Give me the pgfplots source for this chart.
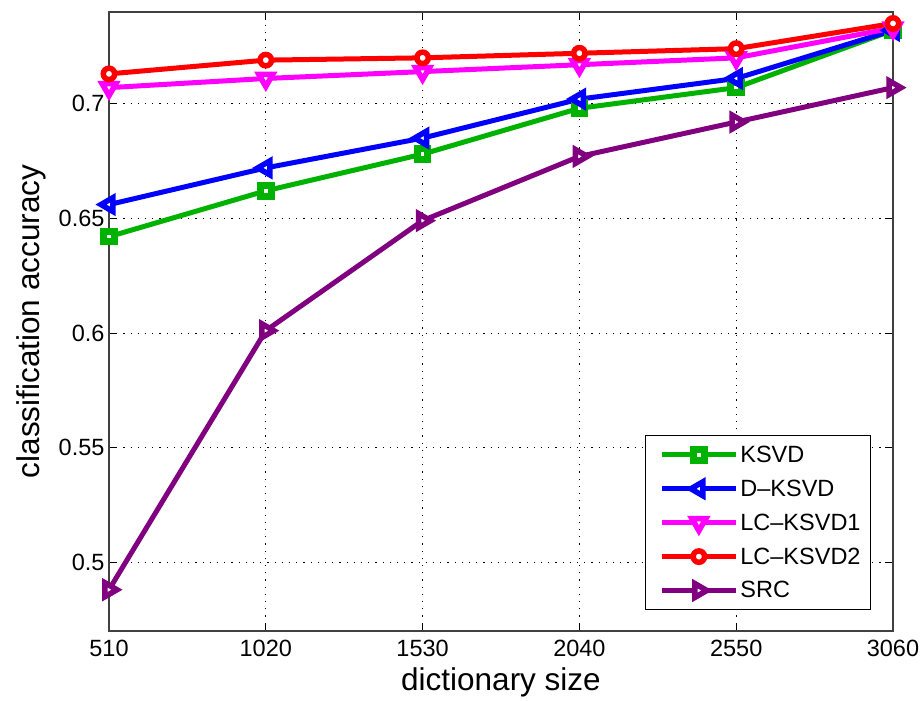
\documentclass[border=0pt]{standalone}
\usepackage{fontspec}
\setmainfont{Liberation Sans}
\usepackage{pgfplots}
\pgfplotsset{compat=1.18}
\definecolor{cgreen}{RGB}{0,178,0}
\definecolor{cblue}{RGB}{0,0,255}
\definecolor{cmag}{RGB}{255,0,255}
\definecolor{cred}{RGB}{255,0,0}
\definecolor{cpurp}{RGB}{128,0,128}
\pgfdeclareplotmark{msq}{\pgfsetlinewidth{7pt}\pgfsetmiterjoin
  \pgfpathrectangle{\pgfqpoint{-\pgfplotmarksize}{-\pgfplotmarksize}}{\pgfqpoint{2\pgfplotmarksize}{2\pgfplotmarksize}}\pgfusepathqfillstroke}
\pgfdeclareplotmark{mcirc}{\pgfsetlinewidth{5.5pt}
  \pgfpathcircle{\pgfpointorigin}{\pgfplotmarksize}\pgfusepathqfillstroke}
\pgfdeclareplotmark{mtl}{\pgfsetlinewidth{5.5pt}\pgfsetmiterjoin
  \pgfpathmoveto{\pgfqpointpolar{180}{\pgfplotmarksize}}
  \pgfpathlineto{\pgfqpointpolar{300}{\pgfplotmarksize}}
  \pgfpathlineto{\pgfqpointpolar{60}{\pgfplotmarksize}}
  \pgfpathclose\pgfusepathqfillstroke}
\pgfdeclareplotmark{mtd}{\pgfsetlinewidth{5.5pt}\pgfsetmiterjoin
  \pgfpathmoveto{\pgfqpointpolar{270}{\pgfplotmarksize}}
  \pgfpathlineto{\pgfqpointpolar{30}{\pgfplotmarksize}}
  \pgfpathlineto{\pgfqpointpolar{150}{\pgfplotmarksize}}
  \pgfpathclose\pgfusepathqfillstroke}
\pgfdeclareplotmark{mtr}{\pgfsetlinewidth{5.5pt}\pgfsetmiterjoin
  \pgfpathmoveto{\pgfqpointpolar{0}{\pgfplotmarksize}}
  \pgfpathlineto{\pgfqpointpolar{120}{\pgfplotmarksize}}
  \pgfpathlineto{\pgfqpointpolar{240}{\pgfplotmarksize}}
  \pgfpathclose\pgfusepathqfillstroke}
\begin{document}
\begin{tikzpicture}
\begin{axis}[
  name=ax, at={(0pt,0pt)}, anchor=south west,
  scale only axis, width=784pt, height=619pt,
  xmin=510, xmax=3060, ymin=0.47, ymax=0.74,
  xtick={510,1020,1530,2040,2550,3060},
  ytick={0.5,0.55,0.6,0.65,0.7},
  /pgf/number format/assume math mode=true,
  /pgf/number format/1000 sep={},
  ticklabel style={font=\fontsize{23.5}{27}\selectfont},
  xticklabel style={yshift=-6pt},
  yticklabel style={xshift=-1pt},
  tick align=inside, major tick length=8pt,
  tick style={black, line width=0.8pt},
  axis line style={black!75, line width=1.3pt},
  grid=major,
  grid style={black, line width=0.9pt, dash pattern=on 1.2pt off 6pt},
  xlabel={dictionary size}, ylabel={classification accuracy},
  label style={font=\fontsize{31.5}{36}\selectfont},
  xlabel style={at={(axis description cs:0.5,0)}, anchor=center, yshift=-51pt},
  ylabel style={at={(axis description cs:0,0.5)}, anchor=center, yshift=78pt},
  legend style={at={(0.972,0.034)}, anchor=south east, draw=black, line width=1pt,
    font=\fontsize{23.5}{27}\selectfont, cells={anchor=west}, row sep=12pt,
    inner xsep=8pt, inner ysep=8pt},
  legend image code/.code={\path (-6pt,0pt); \draw[mark repeat=2,mark phase=2] plot coordinates {(0pt,0pt) (37pt,0pt) (74pt,0pt)};},
  every axis plot/.append style={line width=5pt},
]
\addplot[cgreen, mark=msq, mark size=5.3pt, mark options={solid, fill=white}]
  coordinates {(510,0.642) (1020,0.662) (1530,0.678) (2040,0.698) (2550,0.707) (3060,0.732)};
\addlegendentry{KSVD}
\addplot[cblue, mark=mtl, mark size=8pt, mark options={solid, fill=white}]
  coordinates {(510,0.656) (1020,0.672) (1530,0.685) (2040,0.702) (2550,0.711) (3060,0.732)};
\addlegendentry{D--KSVD}
\addplot[cmag, mark=mtd, mark size=8pt, mark options={solid, fill=white}]
  coordinates {(510,0.707) (1020,0.711) (1530,0.714) (2040,0.717) (2550,0.720) (3060,0.733)};
\addlegendentry{LC--KSVD1}
\addplot[cred, mark=mcirc, mark size=5.7pt, mark options={solid, fill=white}]
  coordinates {(510,0.713) (1020,0.719) (1530,0.720) (2040,0.722) (2550,0.724) (3060,0.735)};
\addlegendentry{LC--KSVD2}
\addplot[cpurp, mark=mtr, mark size=8pt, mark options={solid, fill=white}]
  coordinates {(510,0.488) (1020,0.601) (1530,0.649) (2040,0.677) (2550,0.692) (3060,0.707)};
\addlegendentry{SRC}
\end{axis}
\pgfresetboundingbox
\path (-109pt,-70pt) rectangle (812pt,631pt);
\end{tikzpicture}
\end{document}
